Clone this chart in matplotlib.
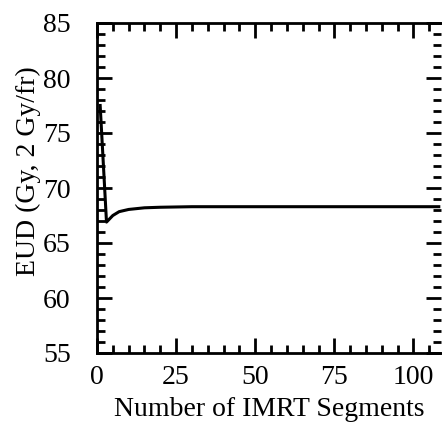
import matplotlib
matplotlib.use("Agg")
import matplotlib.pyplot as plt
from matplotlib.ticker import MultipleLocator

# EUD versus number of IMRT segments
segments = [1, 3, 5, 7, 10, 15, 20, 30, 40, 50, 60, 70, 80, 90, 100, 108]
eud = [77.5, 66.9, 67.5, 67.85, 68.05, 68.2, 68.25, 68.3, 68.3, 68.3, 68.3,
       68.3, 68.3, 68.3, 68.3, 68.3]

plt.rcParams['font.family'] = ['Liberation Serif', 'DejaVu Serif']

fig = plt.figure(figsize=(4.42, 4.22), dpi=100)
ax = fig.add_axes([97 / 442, 69 / 422, 344 / 442, 330 / 422])

ax.plot(segments, eud, color='black', linewidth=2.2)

ax.set_xlim(0, 108.7)
ax.set_ylim(55, 85)
ax.xaxis.set_major_locator(MultipleLocator(25))
ax.xaxis.set_minor_locator(MultipleLocator(5))
ax.yaxis.set_major_locator(MultipleLocator(5))
ax.yaxis.set_minor_locator(MultipleLocator(1))

ax.tick_params(which='both', direction='in', top=True, right=True,
               width=2, labelsize=20, color='black')
ax.tick_params(which='major', length=11)
ax.tick_params(which='minor', length=6)
ax.tick_params(axis='x', which='major', pad=9)
ax.tick_params(axis='y', which='major', pad=19)
for side in ['left', 'bottom', 'top']:
    ax.spines[side].set_linewidth(2)
ax.spines['right'].set_visible(False)

ax.set_xlabel('Number of IMRT Segments', fontsize=20, labelpad=5)
ax.set_ylabel('EUD (Gy, 2 Gy/fr)', fontsize=20)
ax.yaxis.set_label_coords(-0.163, 0.55)

fig.savefig('out.png', dpi=100)
